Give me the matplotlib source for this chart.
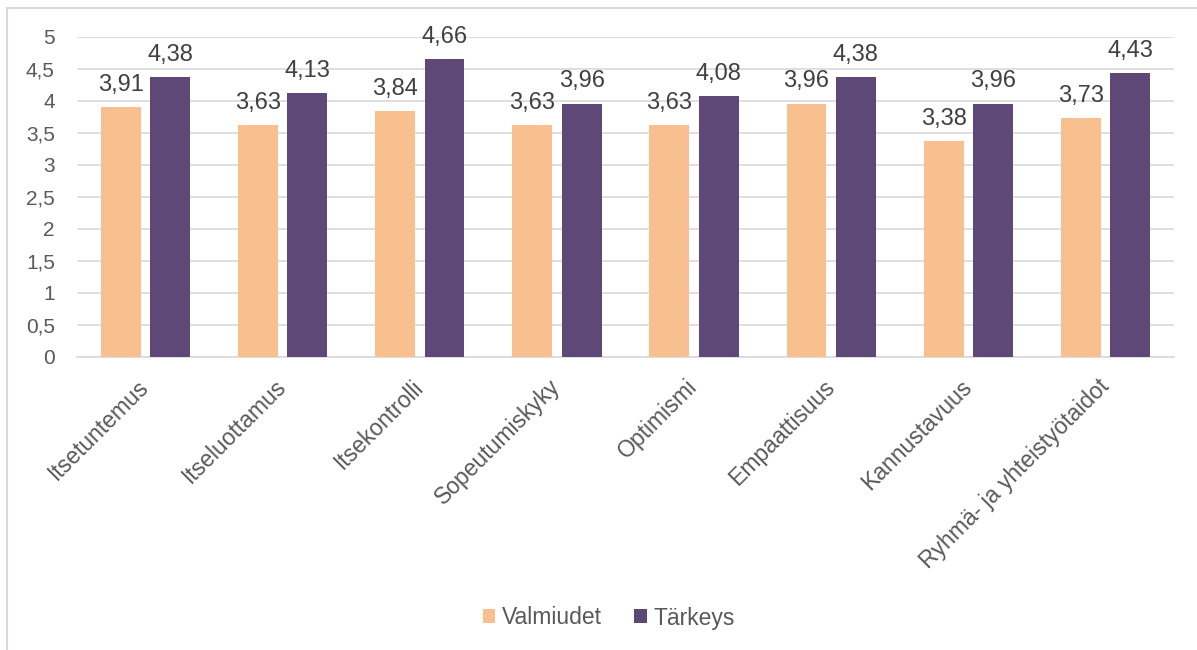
import numpy as np
import matplotlib.pyplot as plt
from matplotlib.patches import Rectangle

plt.rcParams['font.family'] = ['Liberation Sans', 'DejaVu Sans']

categories = ['Itsetuntemus', 'Itseluottamus', 'Itsekontrolli', 'Sopeutumiskyky',
              'Optimismi', 'Empaattisuus', 'Kannustavuus', 'Ryhmä- ja yhteistyötaidot']
valmiudet = [3.91, 3.63, 3.84, 3.63, 3.63, 3.96, 3.38, 3.73]
tarkeys = [4.38, 4.13, 4.66, 3.96, 4.08, 4.38, 3.96, 4.43]
yticks = [0, 0.5, 1, 1.5, 2, 2.5, 3, 3.5, 4, 4.5, 5]

c_orange = '#F8C08F'
c_purple = '#5E4878'

fig = plt.figure(figsize=(11.97, 6.5), dpi=100)
ax = fig.add_axes([77/1197, 1 - 357/650, (1174 - 77)/1197, 320/650])

x = np.arange(len(categories))
w = 0.29
b1 = ax.bar(x - 0.18, valmiudet, w, color=c_orange, label='Valmiudet', zorder=3)
b2 = ax.bar(x + 0.18, tarkeys, w, color=c_purple, label='Tärkeys', zorder=3)

for bars in (b1, b2):
    for r in bars:
        v = r.get_height()
        ax.annotate(f"{v:.2f}".replace('.', ','), (r.get_x() + r.get_width()/2, v),
                    xytext=(0, 8), textcoords='offset points', ha='center', va='bottom',
                    fontsize=17, color='#404040')

ax.set_xlim(-0.5, len(categories) - 0.5)
ax.set_ylim(0, 5)
ax.set_yticks(yticks)
ax.set_yticklabels([f"{t:g}".replace('.', ',') for t in yticks], fontsize=15, color='#595959')
# labels anchored slightly left of the category centre, like the original
ax.set_xticks(x - 0.06)
ax.set_xticklabels(categories, rotation=45, ha='right', rotation_mode='anchor',
                   fontsize=16.5, color='#595959')
ax.tick_params(axis='both', length=0)
ax.tick_params(axis='y', pad=16)
ax.tick_params(axis='x', pad=13)
ax.grid(axis='y', color='#D9D9D9', linewidth=1.2, zorder=0)
ax.grid(axis='x', visible=False)
for s in ['top', 'right', 'left']:
    ax.spines[s].set_visible(False)
ax.spines['bottom'].set_color('#D9D9D9')
ax.spines['bottom'].set_linewidth(1.2)

fig.legend(loc='center', bbox_to_anchor=(609/1197, 1 - 618/650), ncol=2, frameon=False,
           fontsize=16.5, handlelength=0.55, handleheight=0.55, handletextpad=0.3,
           columnspacing=1.4, labelcolor='#595959')

fig.patches.append(Rectangle((7/1197, -0.01), 1.0, 1 - 8/650 + 0.01, transform=fig.transFigure,
                             fill=False, edgecolor='#D9D9D9', linewidth=1.5))

fig.savefig('out.png', dpi=100)
